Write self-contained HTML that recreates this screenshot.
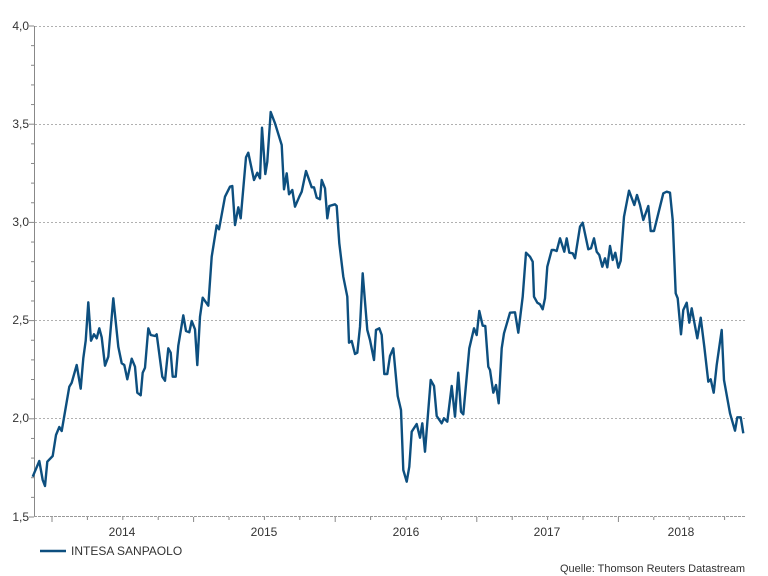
<!DOCTYPE html>
<html><head><meta charset="utf-8"><style>
html,body{margin:0;padding:0;background:#fff;}
svg{display:block;font-family:"Liberation Sans",Arial,sans-serif;}
</style></head><body>
<svg width="768" height="576" viewBox="0 0 768 576" xmlns="http://www.w3.org/2000/svg">
<g stroke="#b0b0b0" stroke-width="1" stroke-dasharray="2,2">
<line x1="35" y1="26.5" x2="745" y2="26.5"/>
<line x1="35" y1="124.5" x2="745" y2="124.5"/>
<line x1="35" y1="222.5" x2="745" y2="222.5"/>
<line x1="35" y1="320.5" x2="745" y2="320.5"/>
<line x1="35" y1="418.5" x2="745" y2="418.5"/>
</g>
<line x1="34.5" y1="26" x2="34.5" y2="517" stroke="#888" stroke-width="1"/>
<g stroke="#888" stroke-width="1" id="yt"></g>
<line x1="34" y1="516.5" x2="745" y2="516.5" stroke="#999" stroke-width="1" stroke-dasharray="3,1"/>
<g stroke="#888" stroke-width="1" id="xt"></g>
<g font-size="12" fill="#333" text-anchor="end">
<text x="29" y="30">4,0</text>
<text x="29" y="128">3,5</text>
<text x="29" y="226">3,0</text>
<text x="29" y="324">2,5</text>
<text x="29" y="422">2,0</text>
<text x="29" y="521">1,5</text>
</g>
<g font-size="12" fill="#333" text-anchor="middle">
<text x="122" y="536">2014</text>
<text x="264" y="536">2015</text>
<text x="406" y="536">2016</text>
<text x="547" y="536">2017</text>
<text x="681" y="536">2018</text>
</g>
<line x1="40" y1="551" x2="66" y2="551" stroke="#0d4f7f" stroke-width="2.5"/>
<text x="71" y="555" font-size="12" fill="#333">INTESA SANPAOLO</text>
<text x="745" y="572" font-size="11" fill="#333" text-anchor="end">Quelle: Thomson Reuters Datastream</text>
<polyline fill="none" stroke="#0d4f7f" stroke-width="2.4" stroke-linejoin="round" points="
32.7,476.7 39.3,461 42.7,480 45,486 47.3,461.7 52.7,456 56,435 59.3,427 61.7,431 69.3,386.7 71.7,382.7 76.7,365 80.7,388.7 83.3,358.3 85.7,340.7 88.3,302.3 91,340.7 94,334.3 96.7,338.3 99.3,328.3 101.7,337.3 105,365.7 108.3,356.7 113.3,298.3 118.3,346.7 121.7,363.3 124.3,365 127.3,379.3 131.7,358.7 135,366.7 137.3,392.7 140.7,395.3 142.7,372.7 145,367.7 148.3,328.3 150.7,335 155,336 156.7,334.3 162.3,376.7 165,380.7 168.3,348.3 170.7,352.7 172.7,376.7 175.7,376.7 178.3,345.7 183.3,315.3 186,331 189.3,332.3 191.7,321 195,329.3 197.3,365 200,316.7 202.7,297.7 208.3,305.7 211.7,256.7 216.7,225.3 219,229.3 225,196.7 230,186.7 232.3,186 235,225 238.3,207.3 240.7,218.3 246,157.3 248.3,152.7 254,180 257.3,172.7 260,178.3 262,127.7 265.3,174 267.3,161.7 270.7,112 275,123.3 281.7,145 284,189.3 286.7,173.3 289,194.3 292.3,190 295,206.7 299.3,196.7 301.7,191.7 306,171 311.7,187.3 314,187.3 316.7,197.7 320,199.3 321.7,180 325,188.3 327.3,218.3 329.3,206 335,204.3 336.7,206 339.3,243.3 343.3,276.7 347.3,296.7 349,342.7 351.7,341 355,354 357.3,352.7 360,326.7 362.7,273.3 367.3,330 370,340 374,360 376,330 379.3,328.3 381.7,335 384.3,374 387.3,374 390,356 393.3,348.3 397.7,396 401,410 403.3,470 406.7,481.7 409.3,466.7 411.7,431.7 416.7,424 420,437.7 422.3,423.3 425,451.7 430.7,380 434,386 436.7,416 441.7,423.3 444,418.3 447.3,421.7 451.7,386 455,416.7 458.3,372.7 461,411.7 463.3,414.3 469.3,348.3 474,328.3 476.7,335 479.3,311 482.7,325.7 485.3,326 488.3,366.7 490,370 493.3,392.7 496,385 498.7,403.3 501.7,348.3 504,333.3 510,312.7 515,312.3 518.3,332.7 522.7,296.7 526,252.7 530,256.7 532.7,261.7 534,296.7 537.3,302.7 540,304.3 542.7,309.3 545,298.3 547.3,266.7 551.7,250 554,250 556.7,251 560,238.3 564.3,251.7 566.7,238.3 569.3,252.7 572.7,253.3 575,258.3 580,226.7 582.7,222.7 588.3,249.3 591,248.3 594,238.3 596.7,251.7 599.3,255 602.3,266.7 605,258.3 607.3,267.3 610,246 612.7,260 615.3,252.7 618.3,267.7 620.7,260.7 624,216.7 629,190.7 634.3,205 637,195 640,205 643.3,220 648.3,206 650.7,231 654,231 660,206.7 663.3,193.3 666.7,191.7 670,192.7 672.7,220 675.7,293.3 677.7,298.3 681,334.3 683.3,310 686.7,302.7 689.3,322.7 691.7,308.3 697.3,338.3 700.7,317.7 704.3,346.7 708.3,381.7 710.7,379.3 713.7,392.7 716.7,365 721.7,330 724,380 730,413.3 735,430.7 737.3,417.3 740.7,417.3 743.3,433.3"/>
<script>
(function(){var ns="http://www.w3.org/2000/svg";
var g=document.getElementById("yt");
for(var i=0;i<=25;i++){var y=26+i*19.64;var l=document.createElementNS(ns,"line");var big=(i%5==0);
l.setAttribute("x1",big?29:31);l.setAttribute("x2",34);l.setAttribute("y1",y);l.setAttribute("y2",y);g.appendChild(l);}
var h=document.getElementById("xt");
for(var j=0;j<20;j++){var x=52+j*35.4;if(x>745)break;var m=document.createElementNS(ns,"line");var big2=(j%4==0);
m.setAttribute("x1",x);m.setAttribute("x2",x);m.setAttribute("y1",517);m.setAttribute("y2",big2?522:520);h.appendChild(m);}
})();
</script>
</svg>
</body></html>
